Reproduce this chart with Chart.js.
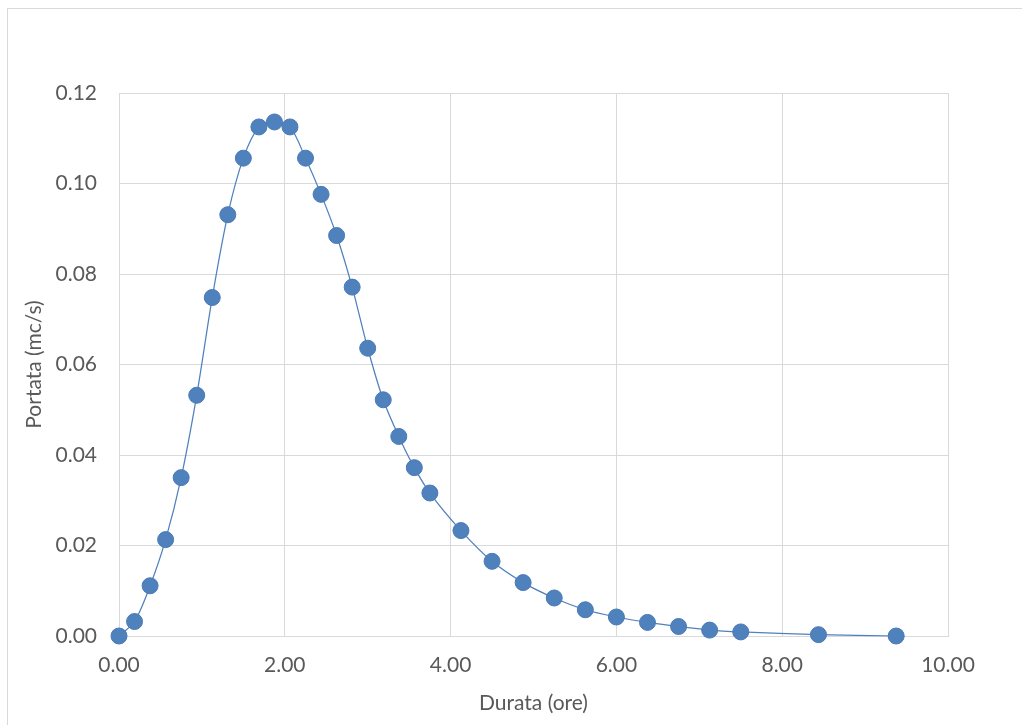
<!DOCTYPE html>
<html>
<head>
<meta charset="utf-8">
<title>Portata - Durata</title>
<script src="https://cdn.jsdelivr.net/npm/chart.js@4/dist/chart.umd.min.js"></script>
<style>
  html, body { margin: 0; padding: 0; background: #fff; overflow: hidden; }
  #frame {
    position: absolute; left: 7px; top: 8px; width: 1040px; height: 740px;
    border: 1px solid #d9d9d9; box-sizing: border-box;
  }
  #wrap { position: absolute; left: 0; top: 0; width: 1022px; height: 725px; }
</style>
</head>
<body>
<div id="frame"></div>
<div id="wrap"><canvas id="chart" width="1022" height="725"></canvas></div>
<script>
// Hydrograph: discharge vs duration
const durata = [0, 0.1875, 0.375, 0.5625, 0.75, 0.9375, 1.125, 1.3125, 1.5, 1.6875,
  1.875, 2.0625, 2.25, 2.4375, 2.625, 2.8125, 3.0, 3.1875, 3.375, 3.5625,
  3.75, 4.125, 4.5, 4.875, 5.25, 5.625, 6.0, 6.375, 6.75, 7.125,
  7.5, 8.4375, 9.375];
const portata = [0, 0.0032, 0.0111, 0.0213, 0.0350, 0.0532, 0.0748, 0.0931, 0.1056, 0.1125,
  0.1136, 0.1125, 0.1056, 0.0976, 0.0885, 0.0771, 0.0636, 0.0522, 0.0441, 0.0372,
  0.0316, 0.0233, 0.0165, 0.0118, 0.0084, 0.0058, 0.0042, 0.0030, 0.0021, 0.0013,
  0.0009, 0.0003, 0.0000];

const xTitle = 'Durata (ore)';
const yTitle = 'Portata (mc/s)';

const textColor = '#595959';
const gridColor = '#d9d9d9';
const fontFamily = 'Lato, "Open Sans", sans-serif';

const points = durata.map((x, i) => ({ x: x, y: portata[i] }));

new Chart(document.getElementById('chart').getContext('2d'), {
  type: 'scatter',
  data: {
    datasets: [{
      data: points,
      showLine: true,
      clip: false,
      borderColor: '#4F81BD',
      borderWidth: 1.25,
      tension: 0.3,
      pointRadius: 8,
      pointHoverRadius: 8,
      pointBackgroundColor: '#4F81BD',
      pointBorderColor: '#4a7ab5',
      pointBorderWidth: 1
    }]
  },
  options: {
    responsive: false,
    animation: false,
    layout: { padding: { left: 7, top: 93, right: 74, bottom: 0 } },
    plugins: { legend: { display: false }, tooltip: { enabled: false } },
    scales: {
      x: {
        type: 'linear',
        min: 0,
        max: 10,
        afterFit: scale => { scale.height = 89; },
        ticks: {
          stepSize: 2,
          color: textColor,
          padding: 17,
          font: { family: fontFamily, size: 21 },
          callback: v => v.toFixed(2)
        },
        grid: { color: gridColor, drawTicks: false, lineWidth: 1 },
        border: { color: gridColor },
        title: {
          display: true,
          text: xTitle,
          color: textColor,
          padding: { top: 0, bottom: 9 },
          font: { family: fontFamily, size: 21 }
        }
      },
      y: {
        min: 0,
        max: 0.12,
        afterFit: scale => { scale.width = 112; },
        ticks: {
          stepSize: 0.02,
          color: textColor,
          padding: 22,
          font: { family: fontFamily, size: 21 },
          callback: v => v.toFixed(2)
        },
        grid: { color: gridColor, drawTicks: false, lineWidth: 1 },
        border: { color: gridColor },
        title: {
          display: true,
          text: yTitle,
          color: textColor,
          padding: { top: 15, bottom: 0 },
          font: { family: fontFamily, size: 21 }
        }
      }
    }
  }
});
</script>
</body>
</html>
